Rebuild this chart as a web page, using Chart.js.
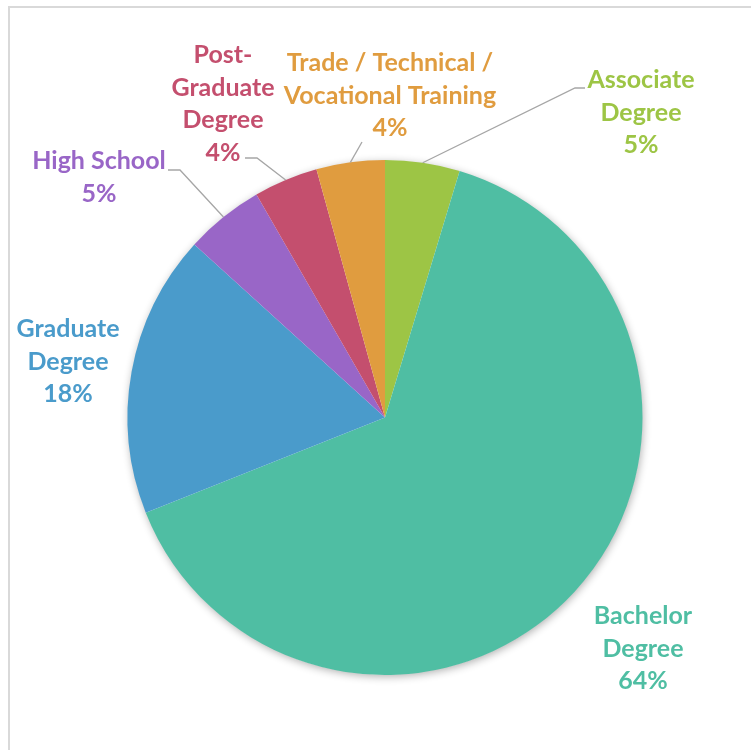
<!DOCTYPE html>
<html>
<head>
<meta charset="utf-8">
<script src="https://cdn.jsdelivr.net/npm/chart.js@4/dist/chart.umd.min.js"></script>
<style>
  html, body { margin: 0; padding: 0; background: #fff; overflow: hidden; }
  #wrap { position: relative; width: 751px; height: 750px; }
  #frame { position: absolute; left: 8px; top: 6px; width: 800px; height: 800px;
           border: 2px solid #d9d9d9; box-sizing: border-box; }
  canvas { position: absolute; left: 0; top: 0; }
</style>
</head>
<body>
<div id="wrap">
  <div id="frame"></div>
  <canvas id="chart" width="751" height="750"></canvas>
</div>
<script>
// Highest education level of respondents (share of total, %)
const categories = [
  'Associate Degree',
  'Bachelor Degree',
  'Graduate Degree',
  'High School',
  'Post-Graduate Degree',
  'Trade / Technical / Vocational Training'
];
const shares = [4.68, 64.3, 17.76, 4.95, 4.03, 4.29];
const sliceColors = ['#9dc545', '#4fbea3', '#4a9bcb', '#9966c7', '#c44f6e', '#e09c3f'];

// How each category name is broken over lines in its label
const labelLines = [
  ['Associate', 'Degree'],
  ['Bachelor', 'Degree'],
  ['Graduate', 'Degree'],
  ['High School'],
  ['Post-', 'Graduate', 'Degree'],
  ['Trade / Technical /', 'Vocational Training']
];

// Label placement: text centre (x, first line y) and optional leader elbow / tail
const labelPlacement = [
  { x: 641, y: 80,  elbow: [575, 88],  tail: [585, 88] },
  { x: 643, y: 616 },
  { x: 68,  y: 329 },
  { x: 99,  y: 161, elbow: [180, 170], tail: [168, 170] },
  { x: 223, y: 55,  elbow: [257, 158], tail: [245, 158] },
  { x: 390, y: 63,  elbow: [362, 142] }
];
const LINE_H = 32.7;

const total = shares.reduce((a, b) => a + b, 0);

const pieShadow = {
  id: 'pieShadow',
  beforeDatasetsDraw(chart) {
    const arc = chart.getDatasetMeta(0).data[0];
    if (!arc) return;
    const ctx = chart.ctx;
    ctx.save();
    ctx.shadowColor = 'rgba(0,0,0,0.32)';
    ctx.shadowBlur = 9;
    ctx.shadowOffsetX = 1;
    ctx.shadowOffsetY = 2;
    ctx.fillStyle = '#ffffff';
    ctx.beginPath();
    ctx.arc(arc.x, arc.y, arc.outerRadius - 0.5, 0, Math.PI * 2);
    ctx.fill();
    ctx.restore();
  }
};

const sliceLabels = {
  id: 'sliceLabels',
  afterDatasetsDraw(chart) {
    const ctx = chart.ctx;
    const meta = chart.getDatasetMeta(0);
    ctx.save();
    meta.data.forEach((arc, i) => {
      const p = labelPlacement[i];
      const pct = Math.round(shares[i] / total * 100) + '%';
      const lines = labelLines[i].concat([pct]);
      // leader line from the middle of the slice's outer edge
      if (p.elbow) {
        const mid = (arc.startAngle + arc.endAngle) / 2;
        const sx = arc.x + Math.cos(mid) * arc.outerRadius;
        const sy = arc.y + Math.sin(mid) * arc.outerRadius;
        ctx.strokeStyle = '#a6a6a6';
        ctx.lineWidth = 1.3;
        ctx.beginPath();
        ctx.moveTo(sx, sy);
        ctx.lineTo(p.elbow[0], p.elbow[1]);
        if (p.tail) ctx.lineTo(p.tail[0], p.tail[1]);
        ctx.stroke();
      }
      ctx.fillStyle = sliceColors[i];
      ctx.font = 'bold 25px Lato';
      ctx.textAlign = 'center';
      ctx.textBaseline = 'middle';
      lines.forEach((t, k) => ctx.fillText(t, p.x, p.y + k * LINE_H));
    });
    ctx.restore();
  }
};

new Chart(document.getElementById('chart'), {
  type: 'pie',
  data: {
    labels: categories,
    datasets: [{
      data: shares,
      backgroundColor: sliceColors,
      borderWidth: 0
    }]
  },
  options: {
    responsive: false,
    animation: false,
    layout: { padding: { left: 127.5, right: 108.5, top: 160, bottom: 75 } },
    plugins: {
      legend: { display: false },
      tooltip: { enabled: false }
    }
  },
  plugins: [pieShadow, sliceLabels]
});
</script>
</body>
</html>
